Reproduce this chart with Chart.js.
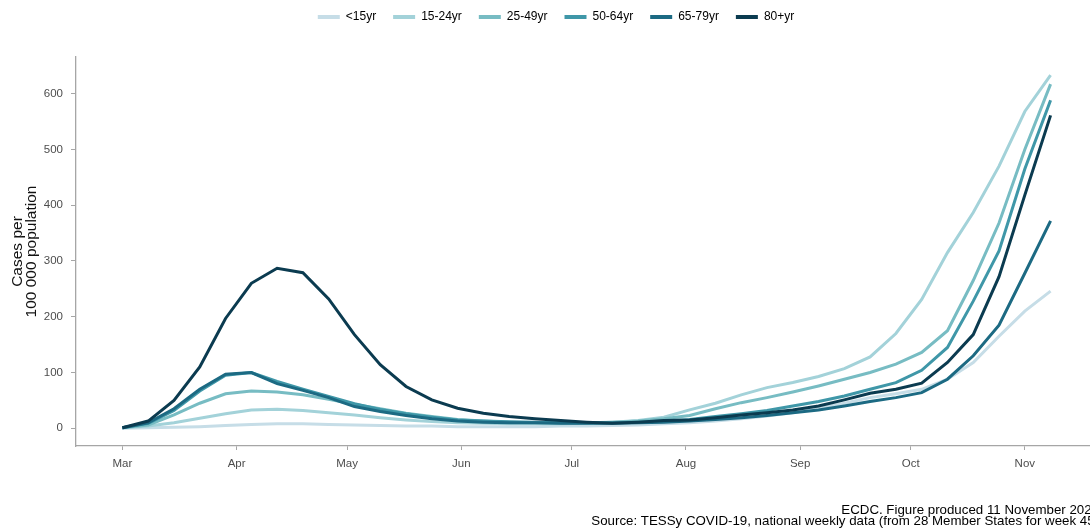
<!DOCTYPE html>
<html>
<head>
<meta charset="utf-8">
<script src="https://cdn.jsdelivr.net/npm/chart.js@4.4.1/dist/chart.umd.min.js"></script>
<style>
  html, body { margin: 0; padding: 0; background: #fff; overflow: hidden; }
  #wrap { width: 1090px; height: 529px; overflow: hidden; position: relative; }
  canvas { display: block; }
</style>
</head>
<body>
<div id="wrap"><canvas id="c" width="1110" height="529"></canvas></div>
<script>
// Week-ending dates, as days since 1 March 2020 (weeks 9 .. 45)
const weekDays = [0,7,14,21,28,35,42,49,56,63,70,77,84,91,98,105,112,119,126,133,140,147,154,161,168,175,182,189,196,203,210,217,224,231,238,245,252];

// Month tick positions (days since 1 March) and labels
const monthDays = [0,31,61,92,122,153,184,214,245];
const monthLabels = ['Mar','Apr','May','Jun','Jul','Aug','Sep','Oct','Nov'];

// Y-axis tick values
const yTicks = [0,100,200,300,400,500,600];

// Series names
const seriesNames = ['<15yr','15-24yr','25-49yr','50-64yr','65-79yr','80+yr'];

// Cases per 100 000 population, weekly
const under15 = [0,1,2,3,5,7,8,8,7,6,5,4,4,3,3,3,3,4,4,5,6,8,10,13,17,22,28,36,45,55,62,70,88,118,165,210,246];
const age15to24 = [1,4,10,18,26,33,34,32,28,24,19,15,12,10,9,8,8,8,9,11,14,20,33,45,60,73,82,93,107,128,170,231,315,387,470,568,633];
const age25to49 = [1,6,24,45,62,67,65,60,52,43,35,27,21,16,13,11,10,10,10,11,13,17,23,35,46,55,65,76,88,100,115,136,175,265,368,500,617];
const age50to64 = [1,9,32,67,95,100,84,70,57,44,34,26,20,15,13,12,11,10,10,10,11,13,16,21,26,32,40,48,58,70,82,104,145,228,318,465,588];
const age65to79 = [1,10,35,70,97,100,80,68,55,39,30,23,17,13,11,10,10,9,9,9,10,11,13,16,19,23,28,33,40,48,55,64,88,130,185,278,372];
const age80plus = [1,13,50,110,197,260,287,279,232,168,114,75,51,36,27,21,17,14,11,9,11,14,15,19,24,28,33,40,51,63,70,81,118,168,272,418,561];

const seriesValues = [under15, age15to24, age25to49, age50to64, age65to79, age80plus];
const seriesColors = ['#c6dde7','#a3d2d9','#77bcc3','#3f97a8','#1c6a83','#0b3b50'];

const captionLines = [
  'ECDC. Figure produced 11 November 2020',
  'Source: TESSy COVID-19, national weekly data (from 28 Member States for week 45)'
];

const datasets = seriesNames.map((name, i) => ({
  label: name,
  data: seriesValues[i].map((v, j) => ({ x: weekDays[j], y: v })),
  borderColor: seriesColors[i],
  backgroundColor: seriesColors[i],
  borderWidth: 3,
  pointRadius: 0,
  tension: 0,
  fill: false,
  order: seriesNames.length - i
}));

const layoutPlugin = {
  id: 'layoutFix',
  afterInit(chart) {
    const lg = chart.legend;
    if (lg) {
      const orig = lg.fit;
      lg.fit = function () { orig.call(this); this.height = 57; };
    }
  },
  afterLayout(chart) {
    const lg = chart.legend;
    if (lg) { lg.left += 15; lg.top -= 6; }
  },
  afterDraw(chart) {
    const ctx = chart.ctx;
    ctx.save();
    ctx.fillStyle = '#000';
    ctx.font = '13.3px "Liberation Sans", Arial, sans-serif';
    ctx.textAlign = 'right';
    ctx.textBaseline = 'middle';
    ctx.fillText(captionLines[0], 1099, 510);
    ctx.fillText(captionLines[1], 1099, 521.5);
    ctx.restore();
  }
};

const axisGray = '#a6a6a6';

new Chart(document.getElementById('c'), {
  type: 'line',
  data: { datasets },
  plugins: [layoutPlugin],
  options: {
    responsive: false,
    animation: false,
    devicePixelRatio: 1,
    layout: { padding: { left: 0, right: 13, top: 0, bottom: 0 } },
    plugins: {
      tooltip: { enabled: false },
      legend: {
        position: 'top',
        align: 'center',
        labels: {
          boxWidth: 22,
          boxHeight: 4,
          padding: 17,
          color: '#222',
          font: { family: '"Liberation Sans", Arial, sans-serif', size: 12 },
          generateLabels(chart) {
            return seriesNames.map((n, i) => ({
              text: n,
              fillStyle: seriesColors[i],
              strokeStyle: seriesColors[i],
              lineWidth: 0,
              hidden: false,
              datasetIndex: i
            }));
          }
        }
      }
    },
    scales: {
      x: {
        type: 'linear',
        min: -12.6,
        max: 264.6,
        afterBuildTicks(scale) { scale.ticks = monthDays.map(v => ({ value: v })); },
        afterFit(scale) { scale.height = 83; },
        grid: { drawOnChartArea: false, drawTicks: true, tickLength: 4, color: axisGray, tickWidth: 1 },
        border: { display: true, color: axisGray, width: 1.3 },
        ticks: {
          autoSkip: false,
          maxRotation: 0,
          padding: 7,
          color: '#4d4d4d',
          font: { family: '"Liberation Sans", Arial, sans-serif', size: 11.5 },
          callback(v, i) { return monthLabels[i]; }
        }
      },
      y: {
        type: 'linear',
        min: -31.7,
        max: 665.7,
        afterBuildTicks(scale) { scale.ticks = yTicks.map(v => ({ value: v })); },
        afterFit(scale) { scale.width = 76; },
        grid: { drawOnChartArea: false, drawTicks: true, tickLength: 5, color: axisGray, tickWidth: 1 },
        border: { display: true, color: axisGray, width: 1.3 },
        title: {
          display: true,
          text: ['Cases per', '100 000 population'],
          color: '#111',
          font: { family: '"Liberation Sans", Arial, sans-serif', size: 15.5, lineHeight: 0.95 },
          padding: { top: 10, bottom: 0 }
        },
        ticks: {
          padding: 8,
          color: '#4d4d4d',
          font: { family: '"Liberation Sans", Arial, sans-serif', size: 11.5 },
          callback(v) { return String(v); }
        }
      }
    }
  }
});
</script>
</body>
</html>
